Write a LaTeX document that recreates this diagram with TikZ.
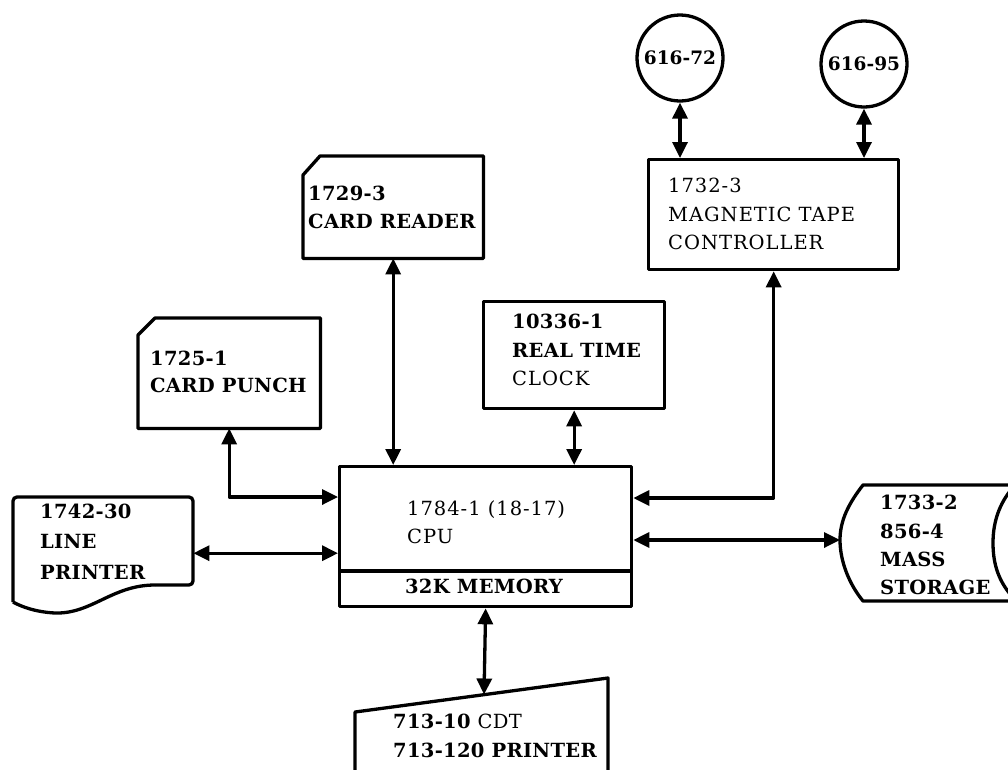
\documentclass[tikz,border=0pt]{standalone}
\usepackage{fontspec}
\setmainfont{DejaVu Serif}
\usetikzlibrary{arrows.meta,calc}
\begin{document}
\begin{tikzpicture}[x=1pt,y=-1pt,
  ln/.style={line width=3.3pt, line join=round},
  arrowhd/.tip={Triangle[width=15pt,length=16pt]},
  dbl/.style={ln, arrowhd-arrowhd},
  shp/.style={draw, ln, rectangle, inner sep=0pt},
  area/.style={rectangle, inner sep=0pt},
  bt/.style={anchor=base west, inner sep=0pt, font=\fontsize{19.5}{22}\selectfont\bfseries\addfontfeature{LetterSpace=1.5}},
  rt/.style={anchor=base west, inner sep=0pt, font=\fontsize{19.5}{22}\selectfont\addfontfeature{LetterSpace=5}},
]
\useasboundingbox (0,0) rectangle (1008,769);

% ---- shapes ----
\node[shp, minimum width=292pt, minimum height=140pt, anchor=north west] (cpu) at (338,465) {};
\draw[ln] ([yshift=-106pt]cpu.north west) -- ([yshift=-106pt]cpu.north east);
\node[shp, minimum width=250pt, minimum height=110pt, anchor=north west] (tc) at (647,158) {};
\node[shp, minimum width=181pt, minimum height=107pt, anchor=north west] (clk) at (482,300) {};
\node[draw, ln, circle, minimum size=86pt, inner sep=0pt, font=\fontsize{18.5}{20}\selectfont\bfseries] (t1) at (680,58) {616-72};
\node[draw, ln, circle, minimum size=86pt, inner sep=0pt, font=\fontsize{18.5}{20}\selectfont\bfseries] (t2) at (864,64) {616-95};

\node[area, minimum width=180pt, minimum height=102pt, anchor=north west] (cr) at (303,156) {};
\draw[ln] ([yshift=-19pt]cr.north west) -- ([xshift=17pt]cr.north west) -- (cr.north east) -- (cr.south east) -- (cr.south west) -- cycle;

\node[area, minimum width=182pt, minimum height=110pt, anchor=north west] (cp) at (138,318) {};
\draw[ln] ([yshift=-17pt]cp.north west) -- ([xshift=17pt]cp.north west) -- (cp.north east) -- (cp.south east) -- (cp.south west) -- cycle;

\node[area, minimum width=180pt, minimum height=112pt, anchor=north west] (lp) at (13,497) {};
\draw[ln, rounded corners=4pt] (13,602) -- (13,497) -- (193,497) -- (193,585) -- (155,585);
\draw[ln] (155,585)
  .. controls (112,585) and (92,614) .. (55,613)
  .. controls (36,612) and (22,607) .. (13,602);

\coordinate (ms) at (840,540);
\draw[ln] (1012,485) -- (863,485) .. controls (849,503) and (840,520) .. (ms)
  .. controls (840,561) and (849,584) .. (863,601) -- (1012,601);
\draw[ln] (1010,491) .. controls (997,508) and (993,526) .. (993,543)
  .. controls (993,561) and (997,578) .. (1010,594);

\coordinate (pr) at (484,694.5);
\draw[ln] (355,775) -- (355,712) -- (608,678) -- (608,775);

% ---- connectors ----
\draw[dbl] (t1.south) -- (t1.south |- tc.north);
\draw[dbl] (t2.south) -- (t2.south |- tc.north);
\draw[dbl] (tc.south) |- ([yshift=-33pt]cpu.north east);
\draw[dbl] (cr.south) -- (cr.south |- cpu.north);
\draw[dbl] (clk.south) -- (clk.south |- cpu.north);
\draw[dbl] (cp.south) |- ([yshift=-32pt]cpu.north west);
\draw[dbl] (lp.east) -- (lp.east -| cpu.west);
\draw[dbl] (cpu.east |- ms) -- (ms);
\draw[dbl] (cpu.south) -- (pr);

% ---- texts ----
\node[rt] (tca) at (668,192) {1732-3};
\node[rt] (tcb) at (668,221) {MAGNETIC TAPE};
\node[rt] (tcc) at (668,249) {CONTROLLER};

\node[bt] (cra) at (308,200) {1729-3};
\node[bt] (crb) at (308,228) {CARD READER};

\node[bt] (cpa) at (150,365) {1725-1};
\node[bt] (cpb) at (150,392) {CARD PUNCH};

\node[bt] (clka) at (512,328) {10336-1};
\node[bt] (clkb) at (512,357) {REAL TIME};
\node[rt] (clkc) at (512,385) {CLOCK};

\node[rt] (cpua) at (407,515) {1784-1 (18-17)};
\node[rt] (cpub) at (407,543) {CPU};
\node[bt, anchor=base] (mem) at (484,593) {32K MEMORY};

\node[bt] (lpa) at (40,518) {1742-30};
\node[bt] (lpb) at (40,548) {LINE};
\node[bt] (lpc) at (40,579) {PRINTER};

\node[bt] (msa) at (880,509) {1733-2};
\node[bt] (msb) at (880,538) {856-4};
\node[bt] (msc) at (880,566) {MASS};
\node[bt] (msd) at (880,594) {STORAGE};

\node[bt] (pra) at (393,728) {713-10 {\mdseries CDT}};
\node[bt] (prb) at (393,757) {713-120 PRINTER};
\end{tikzpicture}
\end{document}
